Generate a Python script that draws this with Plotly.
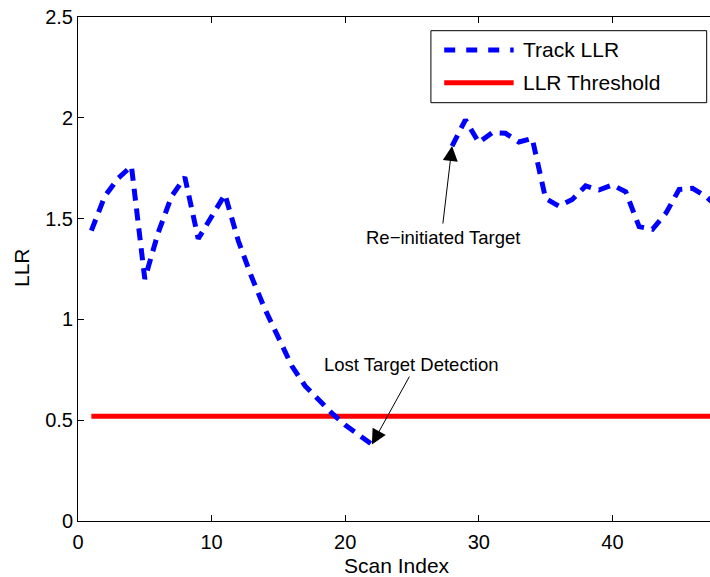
import plotly.graph_objects as go

# Track log-likelihood ratio per scan (None = track dropped, no LLR computed)
scan_index = list(range(1, 49))
track_llr = [
    1.44, 1.61, 1.70, 1.76, 1.20, 1.43, 1.61, 1.705, 1.40, 1.51,
    1.62, 1.39, 1.21, 1.05, 0.91, 0.77, 0.67, 0.60, 0.535, 0.476,
    0.425, 0.38, None, None, None, None, None, 1.86, 1.99, 1.877,
    1.926, 1.923, 1.88, 1.898, 1.60, 1.562, 1.595, 1.662, 1.642, 1.667,
    1.633, 1.46, 1.447, 1.526, 1.645, 1.65, 1.61, 1.55,
]

# Detection threshold on the LLR
threshold_scans = [1, 50]
threshold_value = 0.52

x_ticks = [0, 10, 20, 30, 40]
y_ticks = [0, 0.5, 1, 1.5, 2, 2.5]
y_tick_text = ["0", "0.5", "1", "1.5", "2", "2.5"]

FONT = "Liberation Sans, Arial, Helvetica, sans-serif"
BLUE = "#0000ff"
RED = "#ff0000"

fig = go.Figure()

fig.add_trace(go.Scatter(
    x=threshold_scans, y=[threshold_value] * len(threshold_scans),
    mode="lines", name="LLR Threshold",
    line=dict(color=RED, width=5),
    connectgaps=False, showlegend=False,
))

fig.add_trace(go.Scatter(
    x=scan_index, y=track_llr,
    mode="lines", name="Track LLR",
    line=dict(color=BLUE, width=5, dash="12px,8px"),
    connectgaps=False, showlegend=False,
))

# Arrow annotations pointing at the track points
lost_idx = 22
reinit_idx = 28
annotations = [
    dict(x=lost_idx, y=track_llr[lost_idx - 1], xref="x", yref="y",
         ax=24.87, ay=0.724, axref="x", ayref="y",
         text="", showarrow=True, arrowhead=2, arrowsize=3,
         arrowwidth=1, arrowcolor="black", standoff=0, startstandoff=0),
    dict(x=24.99, y=0.774, xref="x", yref="y", text="Lost Target Detection",
         xanchor="center", yanchor="middle",
         showarrow=False, font=dict(family=FONT, size=18.5, color="black")),
    dict(x=reinit_idx, y=track_llr[reinit_idx - 1], xref="x", yref="y",
         ax=27.3, ay=1.468, axref="x", ayref="y",
         text="", showarrow=True, arrowhead=2, arrowsize=3,
         arrowwidth=1, arrowcolor="black", standoff=0, startstandoff=0),
    dict(x=27.34, y=1.404, xref="x", yref="y", text="Re\u2212initiated Target",
         xanchor="center", yanchor="middle",
         showarrow=False, font=dict(family=FONT, size=18.5, color="black")),
]

# Pixel geometry of the plotting area
W, H = 710, 577
L, T, B = 77.5, 17, 56
pw, ph = W - L, H - T - B


def px_x(p):
    return (p - L) / pw


def px_y(p):
    return (H - B - p) / ph


# Axis titles
annotations += [
    dict(x=px_x(20.5), y=px_y(268), xref="paper", yref="paper", text="LLR",
         textangle=-90, showarrow=False, xanchor="center", yanchor="middle",
         font=dict(family=FONT, size=21, color="black")),
    dict(x=px_x(397), y=px_y(565), xref="paper", yref="paper",
         text="Scan Index", showarrow=False, xanchor="center", yanchor="middle",
         font=dict(family=FONT, size=21, color="black")),
]

# Legend drawn as a boxed key in paper coordinates
shapes = [
    dict(type="rect", xref="paper", yref="paper",
         x0=px_x(430.7), x1=px_x(706.7), y0=px_y(102.7), y1=px_y(30.7),
         line=dict(color="black", width=1), fillcolor="white", layer="above"),
    dict(type="line", xref="paper", yref="paper",
         x0=px_x(444), x1=px_x(513.5), y0=px_y(50), y1=px_y(50),
         line=dict(color=BLUE, width=5, dash="11px,11px"), layer="above"),
    dict(type="line", xref="paper", yref="paper",
         x0=px_x(444), x1=px_x(513.5), y0=px_y(82.7), y1=px_y(82.7),
         line=dict(color=RED, width=5), layer="above"),
]
annotations += [
    dict(x=px_x(521), y=px_y(50), xref="paper", yref="paper",
         text="Track LLR", xanchor="left", yanchor="middle", showarrow=False,
         font=dict(family=FONT, size=21, color="black")),
    dict(x=px_x(521), y=px_y(82.7), xref="paper", yref="paper",
         text="LLR Threshold", xanchor="left", yanchor="middle", showarrow=False,
         font=dict(family=FONT, size=21, color="black")),
]

fig.update_layout(
    width=W, height=H,
    margin=dict(l=L, r=0, t=T, b=B, pad=0),
    paper_bgcolor="white", plot_bgcolor="white",
    font=dict(family=FONT, size=20, color="black"),
    showlegend=False,
    annotations=annotations,
    shapes=shapes,
    xaxis=dict(
        range=[0, pw / 13.37], tickvals=x_ticks, ticks="inside", ticklen=6,
        tickcolor="black", showline=True, linecolor="black", linewidth=1,
        mirror="ticks", showgrid=False, zeroline=False, ticklabelstandoff=3,
        tickfont=dict(family=FONT, size=20, color="black"),
    ),
    yaxis=dict(
        range=[0, 2.5], tickvals=y_ticks, ticktext=y_tick_text,
        ticks="inside", ticklen=6, tickcolor="black",
        showline=True, linecolor="black", linewidth=1, mirror=False,
        showgrid=False, zeroline=False,
        tickfont=dict(family=FONT, size=20, color="black"),
    ),
)

fig.write_html("out.html")
